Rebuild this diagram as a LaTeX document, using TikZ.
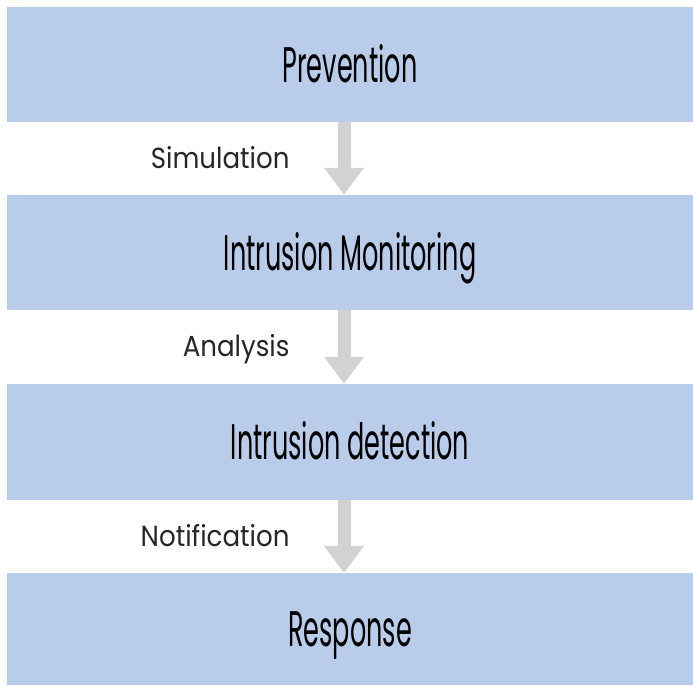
\documentclass[tikz,border=0pt]{standalone}
\usepackage{fontspec}
\usetikzlibrary{arrows.meta}
\newfontfamily\stagefont[FakeStretch=0.51]{Poppins}
\newfontfamily\steplabelfont[FakeStretch=0.9]{Poppins}
\definecolor{stageblue}{HTML}{B9CCEA}
\definecolor{flowgray}{HTML}{D2D2D2}

\begin{document}
\begin{tikzpicture}[x=1pt, y=-1pt,
  stage/.style={fill=stageblue, minimum width=686pt, inner sep=0pt,
    text height=35pt, text depth=0pt,
    font=\stagefont\fontsize{50}{52}\selectfont},
  flow/.style={flowgray, line width=13pt, -{Triangle[width=38pt,length=27pt]}},
  flowlabel/.style={anchor=base east, inner sep=0pt, xshift=-48pt, yshift=-9.5pt,
    text=black!85, font=\steplabelfont\fontsize{29}{32}\selectfont}]
\useasboundingbox (0,0) rectangle (693,685);
% the four stages
\node (prev) at (350,64.5) [stage, minimum height=115pt] {Prevention};
\node (mon) at (350,252.5) [stage, minimum height=115pt] {Intrusion Monitoring};
\node (det) at (350,442) [stage, minimum height=116pt] {Intrusion detection};
\node (resp) at (350,629) [stage, minimum height=112pt] {Response};
% arrows between them
\coordinate (col) at (344,0);
\draw [flow] (prev.south -| col) -- (mon.north -| col) node [midway, flowlabel] (sim) {Simulation};
\draw [flow] (mon.south -| col) -- (det.north -| col) node [midway, flowlabel] (ana) {Analysis};
\draw [flow] (det.south -| col) -- (resp.north -| col) node [midway, flowlabel] (noti) {Notification};
\end{tikzpicture}
\end{document}
